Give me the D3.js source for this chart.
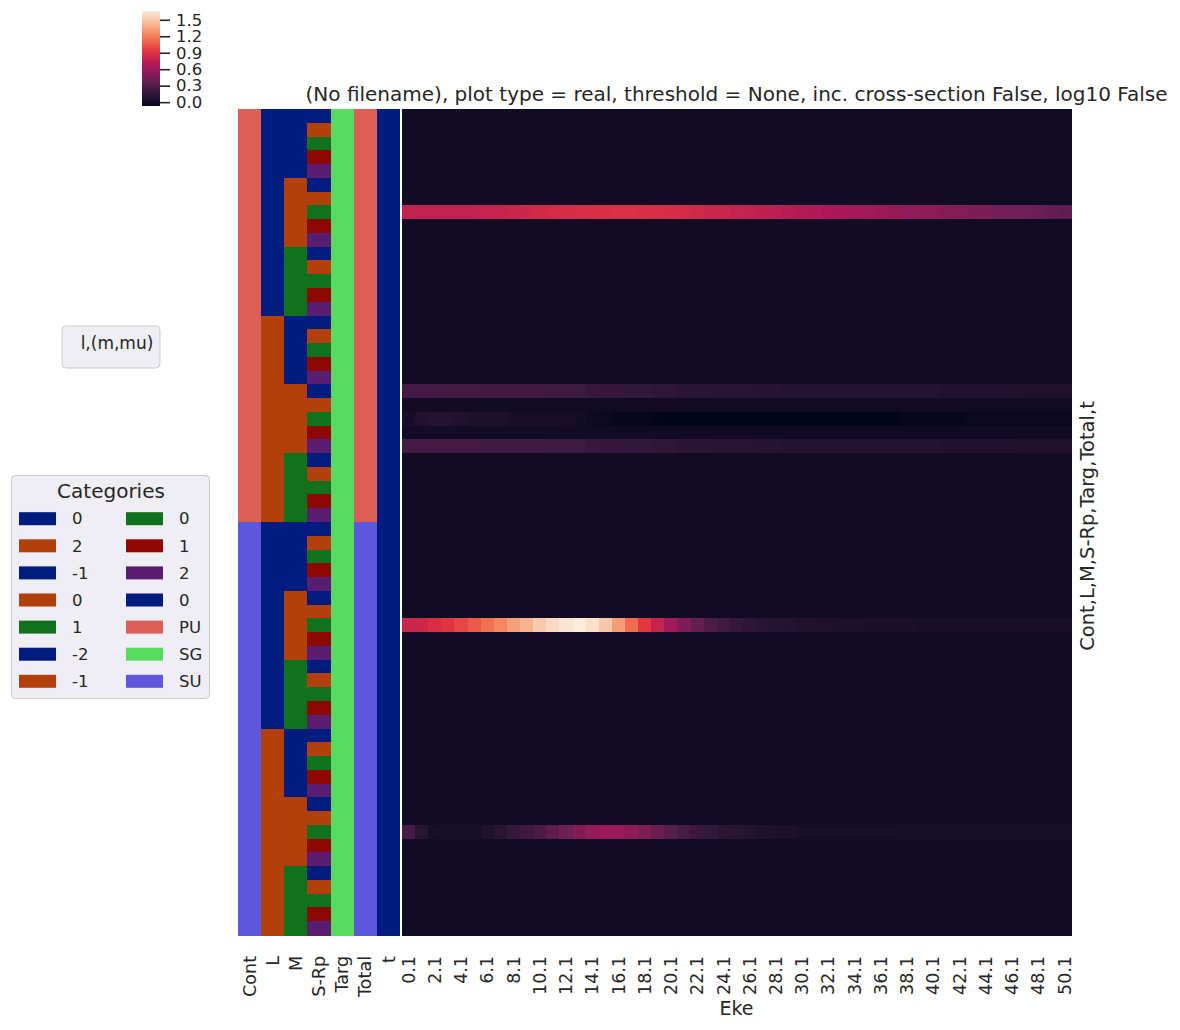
<!DOCTYPE html>
<html>
<head>
<meta charset="utf-8">
<script src="https://cdn.jsdelivr.net/npm/d3@7"></script>
<style>
  body { margin: 0; background: #fff; }
  text { font-family: "DejaVu Sans", sans-serif; fill: #262626; }
</style>
</head>
<body>
<svg id="chart" width="1180" height="1030"></svg>
<script>
// ---- data ----
var ekeLabels = ["0.1","1.1","2.1","3.1","4.1","5.1","6.1","7.1","8.1","9.1",
                 "10.1","11.1","12.1","13.1","14.1","15.1","16.1","17.1","18.1","19.1",
                 "20.1","21.1","22.1","23.1","24.1","25.1","26.1","27.1","28.1","29.1",
                 "30.1","31.1","32.1","33.1","34.1","35.1","36.1","37.1","38.1","39.1",
                 "40.1","41.1","42.1","43.1","44.1","45.1","46.1","47.1","48.1","49.1","50.1"];

var contCats = ["PU", "SU"];
var lCats    = ["0", "2"];
var mCats    = ["-1", "0", "1"];
var sCats    = ["-2", "-1", "0", "1", "2"];
var targCat  = "SG";
var tCat     = "0";

var rowColorLabels = ["Cont", "L", "M", "S-Rp", "Targ", "Total", "t"];

// non-zero rows of the matrix (all other rows are 0)
var bandPU_L0_M0_S0 = [0.77,0.76,0.76,0.76,0.76,0.77,0.78,0.79,0.81,0.82,
                       0.84,0.85,0.86,0.87,0.88,0.88,0.89,0.89,0.88,0.87,
                       0.86,0.85,0.83,0.81,0.80,0.78,0.77,0.75,0.74,0.72,
                       0.70,0.69,0.67,0.65,0.63,0.62,0.60,0.58,0.56,0.55,
                       0.53,0.51,0.50,0.48,0.46,0.44,0.43,0.41,0.40,0.38,0.36];
var bandPU_L2_M0_Sm2 = [0.23,0.23,0.23,0.23,0.23,0.23,0.22,0.22,0.22,0.22,
                        0.22,0.21,0.21,0.21,0.18,0.17,0.17,0.16,0.16,0.15,
                        0.15,0.13,0.13,0.13,0.12,0.12,0.12,0.11,0.11,0.09,
                        0.09,0.09,0.09,0.09,0.09,0.09,0.09,0.09,0.09,0.09,
                        0.09,0.08,0.08,0.08,0.08,0.08,0.08,0.07,0.07,0.07,0.07];
var bandPU_L2_M0_S0 = [0.03,0.08,0.09,0.09,0.08,0.06,0.06,0.06,0.04,0.04,
                       0.04,0.04,0.03,0.02,-0.01,-0.02,-0.04,-0.05,-0.05,-0.06,
                       -0.07,-0.07,-0.07,-0.07,-0.07,-0.07,-0.07,-0.07,-0.07,-0.07,
                       -0.07,-0.07,-0.07,-0.07,-0.07,-0.07,-0.07,-0.07,-0.05,-0.05,
                       -0.05,-0.05,-0.05,-0.03,-0.03,-0.03,-0.03,-0.03,-0.03,-0.03,-0.03];
var bandPU_L2_M0_S2 = [0.23,0.23,0.23,0.23,0.23,0.23,0.22,0.22,0.22,0.22,
                       0.22,0.21,0.21,0.21,0.18,0.17,0.17,0.16,0.16,0.15,
                       0.15,0.13,0.13,0.13,0.12,0.12,0.12,0.11,0.11,0.09,
                       0.09,0.09,0.09,0.09,0.09,0.09,0.09,0.09,0.09,0.09,
                       0.09,0.08,0.08,0.08,0.08,0.08,0.08,0.07,0.07,0.07,0.07];
var bandSU_L0_M0_S0 = [0.80,0.82,0.87,0.92,0.99,1.06,1.15,1.23,1.33,1.41,
                       1.51,1.58,1.63,1.66,1.61,1.50,1.32,1.13,0.93,0.78,
                       0.62,0.48,0.37,0.28,0.22,0.17,0.14,0.12,0.10,0.09,
                       0.08,0.07,0.07,0.06,0.06,0.05,0.05,0.05,0.05,0.04,
                       0.04,0.04,0.04,0.04,0.04,0.04,0.04,0.04,0.04,0.04,0.04];
var bandSU_L2_M0_S0 = [0.24,0.12,0.04,0.03,0.03,0.03,0.07,0.12,0.17,0.22,
                       0.27,0.34,0.42,0.49,0.57,0.60,0.60,0.55,0.48,0.40,
                       0.32,0.25,0.20,0.16,0.13,0.12,0.10,0.08,0.06,0.05,
                       0.04,0.04,0.04,0.04,0.04,0.04,0.04,0.04,0.03,0.03,
                       0.03,0.03,0.03,0.03,0.03,0.03,0.03,0.03,0.03,0.03,0.03];

var bands = {
  "PU|0|0|0":  bandPU_L0_M0_S0,
  "PU|2|0|-2": bandPU_L2_M0_Sm2,
  "PU|2|0|0":  bandPU_L2_M0_S0,
  "PU|2|0|2":  bandPU_L2_M0_S2,
  "SU|0|0|0":  bandSU_L0_M0_S0,
  "SU|2|0|0":  bandSU_L2_M0_S0
};

var vmin = -0.07, vmax = 1.66;
var cbarTicks = [0.0, 0.3, 0.6, 0.9, 1.2, 1.5];

// seaborn "dark" palette and "hls" palette
var dark = ["#001c7f", "#b1400d", "#12711c", "#8c0800", "#591e71"];
var hls3 = ["#db5f57", "#57db5f", "#5f57db"];
var rocket = ["#03051a", "#35193e", "#701f57", "#ad1759", "#e13342", "#f37651", "#f6b48f", "#faebdd"];

var lColor = d3.scaleOrdinal(lCats, dark);
var mColor = d3.scaleOrdinal(mCats, dark);
var sColor = d3.scaleOrdinal(sCats, dark);
var tColor = d3.scaleOrdinal([tCat], dark);
var groupColor = d3.scaleOrdinal(["PU", "SG", "SU"], hls3);

// ---- layout ----
var svg = d3.select("#chart");
var hmLeft = 402, hmRight = 1071, hmTop = 109, hmBottom = 935;
var rcLeft = 238, rcRight = 400;

var rows = d3.cross(contCats, lCats, mCats, sCats);  // 60 rows
var rowKey = function (r) { return r.join("|"); };

var x = d3.scaleBand().domain(ekeLabels).range([hmLeft, hmRight]);
var y = d3.scaleBand().domain(rows.map(rowKey)).range([hmTop, hmBottom]);
var rcX = d3.scaleBand().domain(rowColorLabels).range([rcLeft, rcRight]);
var color = d3.scaleSequential(d3.piecewise(d3.interpolateRgb, rocket)).domain([vmin, vmax]);

// ---- heatmap cells ----
var cells = [];
rows.forEach(function (r) {
  var k = rowKey(r);
  var vals = bands[k];
  ekeLabels.forEach(function (e, i) {
    cells.push({ row: k, eke: e, value: vals ? vals[i] : 0 });
  });
});

svg.append("g")
  .attr("shape-rendering", "crispEdges")
  .selectAll("rect")
  .data(cells)
  .enter().append("rect")
    .attr("x", function (d) { return x(d.eke); })
    .attr("y", function (d) { return y(d.row); })
    .attr("width", x.bandwidth() + 0.5)
    .attr("height", y.bandwidth() + 0.5)
    .attr("fill", function (d) { return color(d.value); });

// ---- row colour strips ----
var rcCells = [];
rows.forEach(function (r) {
  var k = rowKey(r);
  rcCells.push({ row: k, col: "Cont",  color: groupColor(r[0]) });
  rcCells.push({ row: k, col: "L",     color: lColor(r[1]) });
  rcCells.push({ row: k, col: "M",     color: mColor(r[2]) });
  rcCells.push({ row: k, col: "S-Rp",  color: sColor(r[3]) });
  rcCells.push({ row: k, col: "Targ",  color: groupColor(targCat) });
  rcCells.push({ row: k, col: "Total", color: groupColor(r[0]) });
  rcCells.push({ row: k, col: "t",     color: tColor(tCat) });
});

svg.append("g")
  .attr("shape-rendering", "crispEdges")
  .selectAll("rect")
  .data(rcCells)
  .enter().append("rect")
    .attr("x", function (d) { return rcX(d.col); })
    .attr("y", function (d) { return y(d.row); })
    .attr("width", function (d) { return d.col === "t" ? rcX.bandwidth() : rcX.bandwidth() + 0.5; })
    .attr("height", y.bandwidth() + 0.5)
    .attr("fill", function (d) { return d.color; });

// ---- x tick labels ----
function styleRotated(g) {
  g.select(".domain").remove();
  g.selectAll("text")
    .attr("transform", "translate(0,21) rotate(-90)")
    .attr("x", 0).attr("y", 0).attr("dy", "0.35em")
    .style("text-anchor", "end")
    .style("font-size", "17.5px")
    .style("font-family", "DejaVu Sans")
    .attr("fill", "#262626");
}
var xAxis = d3.axisBottom(x)
  .tickValues(ekeLabels.filter(function (d, i) { return i % 2 === 0; }))
  .tickSize(0);
svg.append("g").attr("transform", "translate(0," + hmBottom + ")").call(xAxis).call(styleRotated);
svg.append("g").attr("transform", "translate(0," + hmBottom + ")").call(d3.axisBottom(rcX).tickSize(0)).call(styleRotated);

// axis labels
svg.append("text")
  .attr("x", (hmLeft + hmRight) / 2).attr("y", 1015)
  .attr("text-anchor", "middle").style("font-size", "19px")
  .text("Eke");

svg.append("text")
  .attr("transform", "translate(1087," + ((hmTop + hmBottom) / 2 + 4) + ") rotate(-90)")
  .attr("text-anchor", "middle").attr("dy", "0.35em").style("font-size", "19.5px")
  .text("Cont,L,M,S-Rp,Targ,Total,t");

svg.append("text")
  .attr("x", (hmLeft + hmRight) / 2).attr("y", 101)
  .attr("text-anchor", "middle").style("font-size", "20px")
  .text("(No filename), plot type = real, threshold = None, inc. cross-section False, log10 False");

// ---- colour bar ----
var cb = d3.scaleLinear().domain([vmin, vmax]).range([106, 11]);
var grad = svg.append("defs").append("linearGradient")
  .attr("id", "cbgrad").attr("x1", 0).attr("y1", 1).attr("x2", 0).attr("y2", 0);
d3.range(0, 1.0001, 0.02).forEach(function (t) {
  grad.append("stop").attr("offset", t).attr("stop-color", color(vmin + t * (vmax - vmin)));
});
svg.append("rect")
  .attr("x", 142).attr("y", cb(vmax))
  .attr("width", 18).attr("height", cb(vmin) - cb(vmax))
  .attr("fill", "url(#cbgrad)");
var gcb = svg.append("g").attr("transform", "translate(160,0)")
  .call(d3.axisRight(cb).tickValues(cbarTicks).tickFormat(d3.format(".1f")).tickSize(10).tickPadding(6));
gcb.select(".domain").remove();
gcb.selectAll("line").attr("stroke", "#262626").attr("stroke-width", 1.6);
gcb.selectAll("text")
  .style("font-size", "16.5px").style("font-family", "DejaVu Sans").attr("fill", "#262626");

// ---- legends ----
// title-only legend
svg.append("rect")
  .attr("x", 62).attr("y", 326).attr("width", 98).attr("height", 42)
  .attr("rx", 4).attr("fill", "#eeeef4").attr("stroke", "#cccccc");
svg.append("text")
  .attr("x", 117).attr("y", 349).attr("text-anchor", "middle").style("font-size", "17px")
  .text("l,(m,mu)");

var legendItems = [];
lCats.forEach(function (c) { legendItems.push({ label: c, color: lColor(c) }); });
mCats.forEach(function (c) { legendItems.push({ label: c, color: mColor(c) }); });
sCats.forEach(function (c) { legendItems.push({ label: c, color: sColor(c) }); });
legendItems.push({ label: tCat, color: tColor(tCat) });
["PU", "SG", "SU"].forEach(function (c) { legendItems.push({ label: c, color: groupColor(c) }); });

svg.append("rect")
  .attr("x", 11.5).attr("y", 475.5).attr("width", 198).attr("height", 223)
  .attr("rx", 4).attr("fill", "#eeeef4").attr("stroke", "#cccccc");
svg.append("text")
  .attr("x", 111).attr("y", 498).attr("text-anchor", "middle").style("font-size", "20px")
  .text("Categories");

var perCol = Math.ceil(legendItems.length / 2);
var lg = svg.append("g").selectAll("g")
  .data(legendItems)
  .enter().append("g")
    .attr("transform", function (d, i) {
      var col = Math.floor(i / perCol), r = i % perCol;
      return "translate(" + (19 + col * 107) + "," + (518.7 + r * 27.1) + ")";
    });
lg.append("rect").attr("x", 0).attr("y", -6.5).attr("width", 37).attr("height", 13)
  .attr("fill", function (d) { return d.color; });
lg.append("text").attr("x", 53).attr("dy", "0.35em").style("font-size", "16.5px")
  .text(function (d) { return d.label; });
</script>
</body>
</html>
